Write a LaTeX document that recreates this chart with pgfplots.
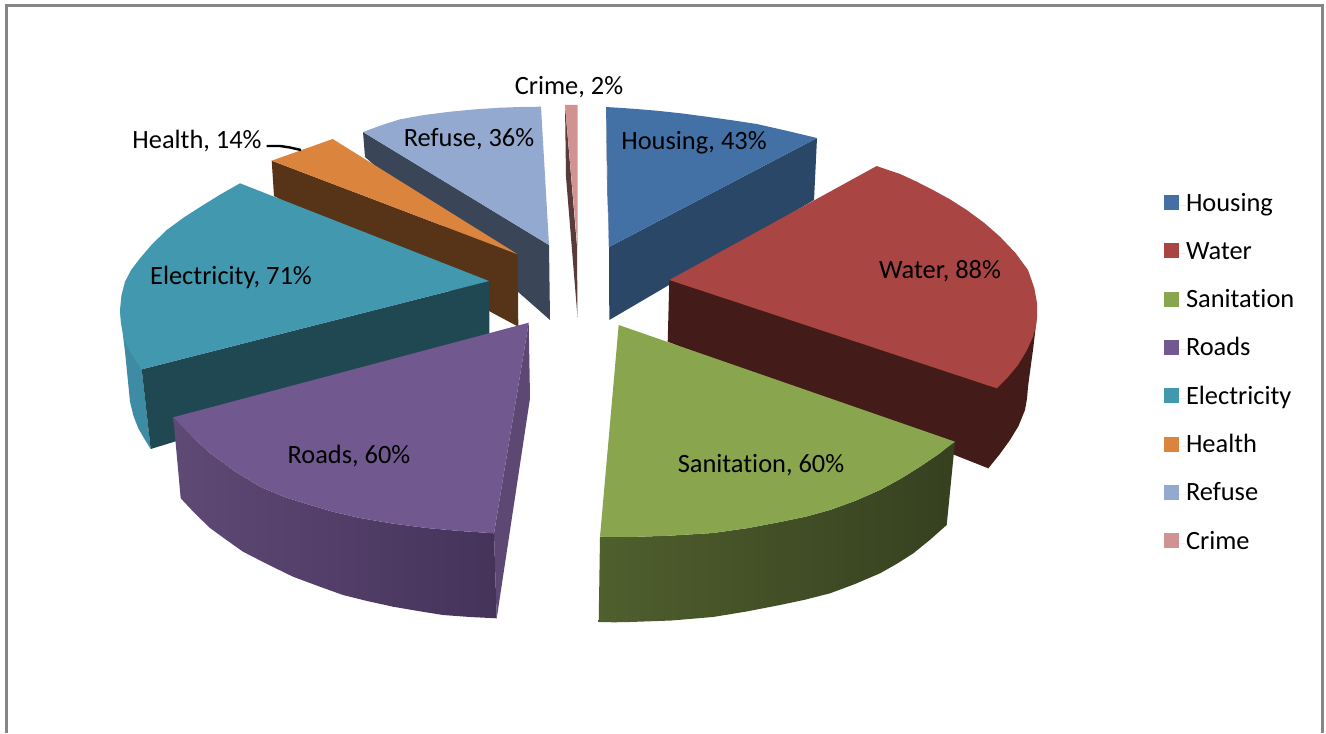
\documentclass[border=0pt]{standalone}
\usepackage{pgfplots}
\pgfplotsset{compat=1.18}
\usepackage{fontspec}
\setmainfont[Ligatures=NoCommon]{Carlito}
\definecolor{housing}{HTML}{4371A6}
\definecolor{housingD}{HTML}{2A4767}
\definecolor{water}{HTML}{A94543}
\definecolor{waterD}{HTML}{431B19}
\definecolor{sanit}{HTML}{89A54E}
\definecolor{sanitL}{HTML}{4F5F2D}
\definecolor{sanitD}{HTML}{364020}
\definecolor{roads}{HTML}{71588F}
\definecolor{roadsS}{HTML}{5C4873}
\definecolor{roadsL}{HTML}{5F4975}
\definecolor{roadsD}{HTML}{45335A}
\definecolor{elec}{HTML}{4198AF}
\definecolor{elecS}{HTML}{3D8CA3}
\definecolor{elecD}{HTML}{1F4853}
\definecolor{health}{HTML}{DB843D}
\definecolor{healthD}{HTML}{573318}
\definecolor{refuse}{HTML}{93A9CF}
\definecolor{refuseD}{HTML}{3A4558}
\definecolor{crime}{HTML}{D19392}
\definecolor{crimeD}{HTML}{5A3B3B}
\definecolor{frameC}{HTML}{868686}
\pgfplotsset{
  face/.style={draw=none,forget plot,fill=#1},
  band/.style={draw=none,forget plot},
}
\begin{document}
\begin{tikzpicture}[font=\fontsize{13.2}{15}\selectfont]
\begin{axis}[
  scale only axis, width=663pt, height=366.5pt,
  xmin=0, xmax=1326, ymin=0, ymax=733, y dir=reverse,
  hide axis, clip=true,
  legend image code/.code={\path[#1] (0pt,-2.5pt) rectangle (7.5pt,5pt);\path (0pt,0pt) -- (11pt,0pt);},
  legend cell align=left,
  legend style={at={(axis cs:1164,193)},anchor=north west,draw=none,fill=none,
    inner sep=0pt,outer sep=0pt,row sep=12.15pt,
    nodes={inner sep=0pt,text height=9pt,text depth=3pt}},
]
% outer frame of the chart area, open at the bottom
\addplot[draw=frameC,line width=1.5pt,forget plot] coordinates {(6,733) (6,6) (1322,6) (1322,733)};

% Refuse
\addplot[face=refuseD] coordinates {(363,132) (365,157) (550,320) (549,245)} --cycle;
\addplot[face=refuse] coordinates {(363,132) (381.5,125.2) (400,119.3) (424.2,115) (450,111.7) (475.6,109.3) (500,107.7) (520.5,107) (541,106.7) (549,245)} --cycle;
% Crime
\addplot[face=crimeD] coordinates {(565,105) (577,247) (577.5,317) (566,177)} --cycle;
\addplot[face=crime] coordinates {(565,105) (577.5,105) (577.5,247)} --cycle;
% Housing
\addplot[face=housingD] coordinates {(817,138) (814,200) (609.3,320) (609,247)} --cycle;
\addplot[face=housingD] coordinates {(606,107) (609,247) (607,180)} --cycle;
\addplot[face=housing] coordinates {(606,107) (631.3,108.6) (656.7,110.7) (681.7,113.4) (706.7,116.7) (731.7,120.2) (756.7,124) (786.8,130.8) (817,138) (609,247)} --cycle;
% Health
\addplot[face=healthD] coordinates {(271.7,160.7) (274,196) (518.3,326.7) (517.7,254.3)} --cycle;
\addplot[face=health] coordinates {(332.7,139) (271.7,160.7) (517.7,254.3)} --cycle;
% Electricity
\addplot[face=elecS] coordinates {(120,310) (122.5,331) (125,351.7) (127.5,376.7) (130,401.7) (133.5,416) (138.3,428.3) (144.5,439) (150.7,449) (141.7,369.3)} --cycle;
\addplot[face=elecD] coordinates {(489,281) (489.5,345) (150.7,449) (141.7,369.3)} --cycle;
\addplot[face=elec] coordinates {(240,183.3) (489,281) (141.7,369.3) (135.8,360.6) (130,351.7) (126.1,343.8) (123.3,335) (120.9,323.2) (120,310) (121.4,295.7) (125,281.7) (131.1,270) (140,258.3) (152,244.3) (166.7,230) (184.4,217.1) (203.3,205) (221.3,193.9)} --cycle;
% Water
\addplot[face=waterD] coordinates {(669.3,280) (667.7,341.7) (988.3,468.3) (999.5,454.5) (1010,440) (1018.5,426) (1025,410) (1027,398.5) (1028,386.7) (1030.5,368) (1033,350) (1035,333) (1037,316.7)} --cycle;
\addplot[face=water] coordinates {(876.7,166) (888,170) (900,174) (915.9,181.3) (933,190) (949.9,199.3) (966.7,210) (983.7,222.5) (1000,236.7) (1015.5,253) (1028,270) (1034.2,287.7) (1037,303) (1037,316.7) (1035.8,327) (1033,336.7) (1026.6,350.8) (1018,365) (1008,377) (996.7,388.3) (669.3,280)} --cycle;
% Sanitation
\addplot[band,left color=sanitL,middle color=sanitD,right color=sanitD] coordinates {(600,536.7) (598.7,622) (614,622.3) (630,622) (671.5,620.5) (713,617) (746.5,611.5) (780,605) (805,599.7) (830,593.3) (855,584) (880,573.3) (897,563.7) (913.3,553.3) (930,539.8) (946.7,525) (955,441.7) (938,454.5) (920,466.7) (900.9,478.6) (880,490) (855.6,500.7) (830,510) (806,516.6) (780,522) (748.5,528) (713,533) (669,535.7) (630,537) (615,536.9)} --cycle;
\addplot[face=sanit] coordinates {(618.7,325) (955,441.7) (938,454.5) (920,466.7) (900.9,478.6) (880,490) (855.6,500.7) (830,510) (806,516.6) (780,522) (748.5,528) (713,533) (669,535.7) (630,537) (615,536.9) (600,536.7)} --cycle;
% Roads
\addplot[face=roadsS] coordinates {(528.7,322.7) (530,398.3) (496.7,618.3) (494,533.3)} --cycle;
\addplot[band,left color=roadsL,right color=roadsD] coordinates {(173.3,417.3) (180.7,498.3) (195,513.5) (210,528) (226.5,540) (243,551.7) (268,564.5) (293,576.7) (318,586) (343,595) (368,601.2) (393,606.7) (418,611) (443,615) (470,617) (496.7,618.3) (494,533.3) (460.3,531) (426.7,528) (392.2,523.5) (360,518) (334,512) (310,505) (285,497.2) (260,486.7) (234.2,471) (210,453) (191,435.7)} --cycle;
\addplot[face=roads] coordinates {(528.7,322.7) (173.3,417.3) (191,435.7) (210,453) (234.2,471) (260,486.7) (285,497.2) (310,505) (334,512) (360,518) (392.2,523.5) (426.7,528) (460.3,531) (494,533.3)} --cycle;

% leader line of the Health label
\addplot[black,line width=1.2pt,forget plot] coordinates {(266.7,146) (280,146) (290,147.5) (301,150)};

% legend keys in chart order
\addlegendimage{fill=housing,draw=none}\addlegendentry{Housing}
\addlegendimage{fill=water,draw=none}\addlegendentry{Water}
\addlegendimage{fill=sanit,draw=none}\addlegendentry{Sanitation}
\addlegendimage{fill=roads,draw=none}\addlegendentry{Roads}
\addlegendimage{fill=elec,draw=none}\addlegendentry{Electricity}
\addlegendimage{fill=health,draw=none}\addlegendentry{Health}
\addlegendimage{fill=refuse,draw=none}\addlegendentry{Refuse}
\addlegendimage{fill=crime,draw=none}\addlegendentry{Crime}

% data labels
\node at (axis cs:569,87) {Crime, 2\%};
\node at (axis cs:694,143) {Housing, 43\%};
\node at (axis cs:940,271) {Water, 88\%};
\node at (axis cs:761,465) {Sanitation, 60\%};
\node at (axis cs:349,456) {Roads, 60\%};
\node at (axis cs:231,277) {Electricity, 71\%};
\node at (axis cs:197,141) {Health, 14\%};
\node at (axis cs:469,139) {Refuse, 36\%};
\end{axis}
\path[use as bounding box] (0,0) rectangle (663pt,366.5pt);
\end{tikzpicture}
\end{document}
